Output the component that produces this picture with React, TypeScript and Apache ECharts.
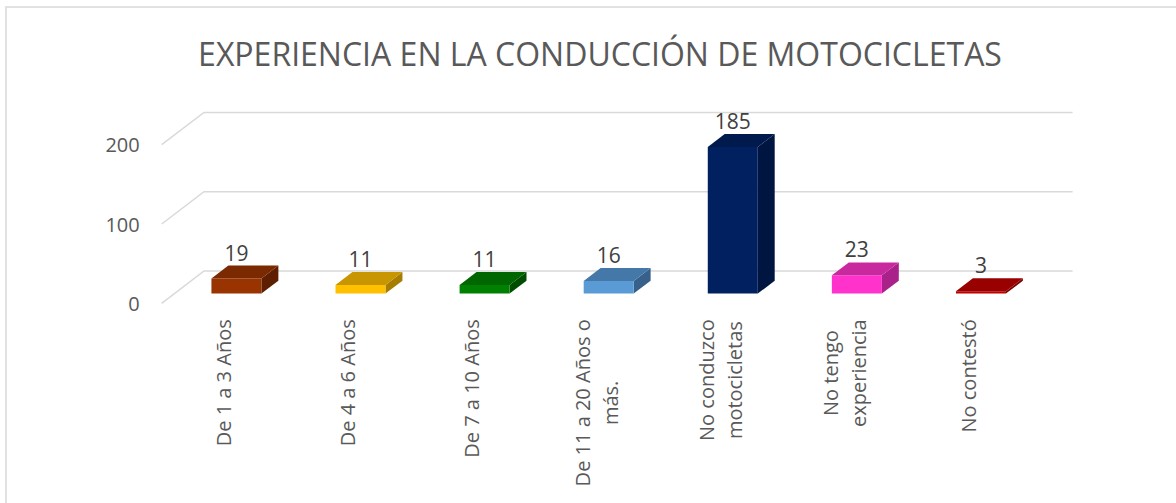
import React, { useEffect, useRef } from "react";
import * as echarts from "echarts";

// ---- data ----
const titleText = "EXPERIENCIA EN LA CONDUCCIÓN DE MOTOCICLETAS";
const categories = [
  "De 1 a 3 Años",
  "De 4 a 6 Años",
  "De 7 a 10 Años",
  "De 11 a 20 Años o\nmás.",
  "No conduzco\nmotocicletas",
  "No tengo\nexperiencia",
  "No contestó",
];
const values = [19, 11, 11, 16, 185, 23, 3];
const yTicks = [0, 100, 200];

// ---- styles ----
const palette = [
  { front: "#993300", top: "#7A2900", side: "#5E1F00" },
  { front: "#FFC000", top: "#C89600", side: "#A67D00" },
  { front: "#008000", top: "#006600", side: "#004D00" },
  { front: "#5B9BD5", top: "#4478A8", side: "#37618A" },
  { front: "#002060", top: "#001A4D", side: "#001540" },
  { front: "#FF33CC", top: "#C9299F", side: "#A8228A" },
  { front: "#C00000", top: "#990000", side: "#800000" },
];
const FONT = "'Open Sans', 'DejaVu Sans', sans-serif";
const TEXT = "#595959";
const GRID_LINE = "#D9D9D9";
const DX = 42.3; // depth vector (px)
const DY = -32.3;
const F = 0.3; // bar front depth fraction
const B = 0.7; // bar back depth fraction
const BAR_W = 0.403; // bar width as fraction of category slot

export default function App() {
  const ref = useRef<HTMLDivElement>(null);

  useEffect(() => {
    if (!ref.current) return;
    const chart = echarts.init(ref.current, undefined, { renderer: "svg" });

    const option: any = {
      animation: false,
      backgroundColor: "#ffffff",
      title: {
        text: titleText,
        left: 595,
        top: 32,
        textAlign: "center",
        textStyle: {
          fontFamily: FONT,
          fontSize: 32,
          fontWeight: "normal",
          color: TEXT,
        },
      },
      graphic: [
        {
          type: "rect",
          shape: { x: 6, y: 7, width: 1300, height: 600 },
          style: { fill: "none", stroke: GRID_LINE, lineWidth: 1.5 },
          silent: true,
        },
      ],
      grid: {
        left: 161.7,
        right: 145.7,
        top: 144.7,
        bottom: 199.7,
        containLabel: false,
      },
      xAxis: {
        type: "category",
        data: categories,
        axisLine: { show: false },
        axisTick: { show: false },
        splitLine: { show: false },
        axisLabel: {
          interval: 0,
          rotate: 90,
          margin: 16,
          fontFamily: FONT,
          fontSize: 20,
          color: TEXT,
          formatter: (s: string) =>
            s
              .split("\n")
              .map((l) => `{c|${l}}`)
              .join("\n"),
          rich: {
            c: {
              align: "center",
              fontFamily: FONT,
              fontSize: 20,
              color: TEXT,
              lineHeight: 28,
            },
          },
        },
      },
      yAxis: {
        type: "value",
        min: 0,
        max: 200,
        interval: 100,
        axisLine: { show: false },
        axisTick: { show: false },
        splitLine: { show: false },
        axisLabel: {
          margin: 22,
          fontFamily: FONT,
          fontSize: 20,
          color: TEXT,
        },
      },
      series: [
        {
          type: "custom",
          name: "grid",
          silent: true,
          clip: false,
          z: 1,
          data: yTicks.map((t) => [0, t]),
          encode: { x: 0, y: 1 },
          renderItem: (params: any, api: any) => {
            const cs = params.coordSys;
            const y = api.coord([0, api.value(1)])[1];
            return {
              type: "polyline",
              shape: {
                points: [
                  [cs.x, y],
                  [cs.x + DX, y + DY],
                  [cs.x + cs.width + DX, y + DY],
                ],
              },
              style: { fill: "none", stroke: GRID_LINE, lineWidth: 1.5 },
            };
          },
        },
        {
          type: "custom",
          name: "bars",
          clip: false,
          z: 2,
          data: values.map((v, i) => [i, v]),
          encode: { x: 0, y: 1 },
          renderItem: (params: any, api: any) => {
            const i = api.value(0);
            const v = api.value(1);
            const base = api.coord([i, 0]);
            const topP = api.coord([i, v]);
            const slot = api.size([1, 0])[0];
            const w = slot * BAR_W;
            const xl = base[0] - w / 2;
            const xr = base[0] + w / 2;
            const y0 = base[1];
            const yt = topP[1];
            const fx = DX * F,
              fy = DY * F,
              bx = DX * B,
              by = DY * B;
            const c = palette[i % palette.length];
            return {
              type: "group",
              children: [
                {
                  type: "polygon",
                  shape: {
                    points: [
                      [xr + fx, yt + fy],
                      [xr + bx, yt + by],
                      [xr + bx, y0 + by],
                      [xr + fx, y0 + fy],
                    ],
                  },
                  style: { fill: c.side },
                },
                {
                  type: "rect",
                  shape: { x: xl + fx, y: yt + fy, width: w, height: y0 - yt },
                  style: { fill: c.front },
                },
                {
                  type: "polygon",
                  shape: {
                    points: [
                      [xl + fx, yt + fy],
                      [xr + fx, yt + fy],
                      [xr + bx, yt + by],
                      [xl + bx, yt + by],
                    ],
                  },
                  style: { fill: c.top },
                },
                {
                  type: "text",
                  style: {
                    text: String(v),
                    x: base[0] + fx,
                    y: yt + by - 13,
                    align: "center",
                    verticalAlign: "middle",
                    fontFamily: FONT,
                    fontSize: 21,
                    fill: "#404040",
                  },
                },
              ],
            };
          },
        },
      ],
    };

    chart.setOption(option);
    return () => chart.dispose();
  }, []);

  return (
    <div
      ref={ref}
      style={{ position: "absolute", left: 0, top: 0, width: 1176, height: 503 }}
    />
  );
}
